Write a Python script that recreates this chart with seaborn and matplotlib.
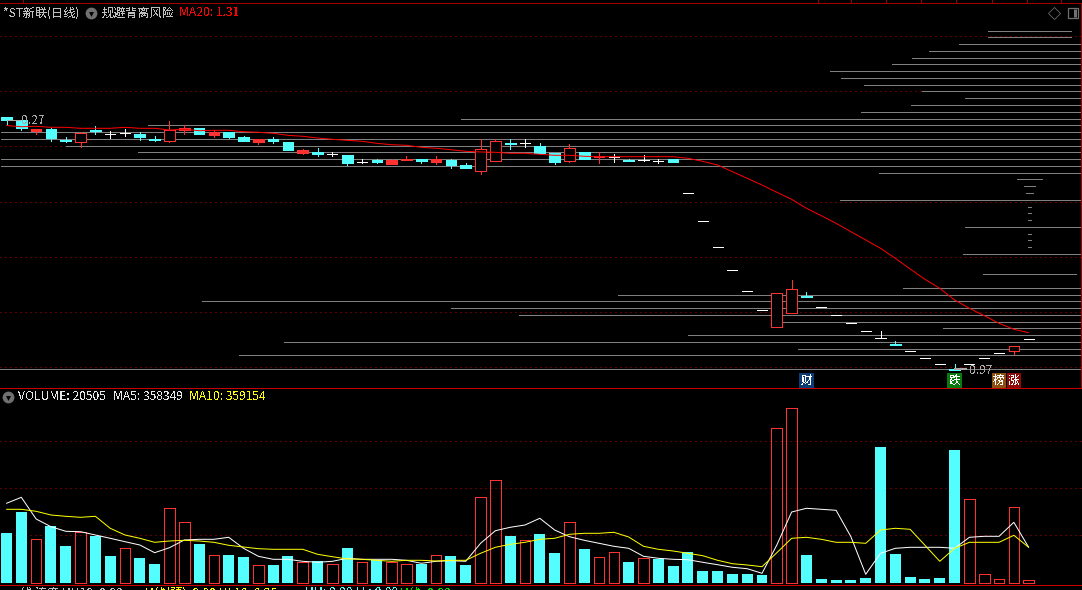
import numpy as np
import pandas as pd
import matplotlib
matplotlib.use("Agg")
import matplotlib.pyplot as plt
import seaborn as sns

# candle kinds: c = down (cyan), r = up (red), w = flat (white)
kinds = "ccrccrcwwc" "crrcrccrcc" "rcwcwcrrcr" "ccrrcwccrc" "rwcwwcwwww" "wwrrcwwwww" "cwwwcwwwrw"
# chart level, counted downwards from the top of the price panel
body_top = [117,120.3,129,129,140,133.3,130,134.3,132.7,134,
            139,130,128,128,132,132,137,139.3,139,142,
            150,152,154,155,162.3,160,160.3,159,159,159.3,
            160,165.3,149.3,141.3,143,143.3,146,153,148.3,152,
            156,156.7,160,160.3,161.3,159,193.3,220.5,247.3,270.3,
            291.3,310.3,293.3,289.3,296,306.7,315.3,323.3,331.3,338.3,
            344,351.3,358.3,364.3,369,364.3,358.3,353.3,346.3,339.3]
body_bot = [120,127.7,131.3,138.3,141,141.7,131.3,134.3,132.7,137,
            140,140.7,130,134,135,137,141,142,141,150,
            153,154,154,163,162.3,162,163.7,160,161,161.7,
            165,168,170.7,160.7,144,143.3,153,162,160.7,159,
            157,156.7,161,160.3,161.3,162,193.3,220.5,247.3,270.3,
            291.3,310.3,326.7,312.7,297,306.7,315.3,323.3,331.3,338.3,
            345,351.3,358.3,364.3,370,364.3,358.3,353.3,350.7,339.3]
wick_top = [117,120.3,129,128,137,131.7,126,131.3,129,132,
            136,121,125,128,130,132,136,139.3,137,142,
            149,148,152,155,159,158.7,158.7,156,159,156,
            159,163,139,139,139,139,143,153,144,152,
            152,154,159,155,159,159,193.3,220.5,247.3,270.3,
            291.3,310.3,293.3,280,292.3,306.7,315.3,323.3,331.3,331.3,
            341.3,351.3,358.3,364.3,364,364.3,358.3,353.3,346.3,339.3]
wick_bot = [125,130,134,141,142.3,147,134,138,136,140,
            141,142,134,134,137,138.3,141,144,143,150,
            154,156,156,165,163.3,163,163.7,160.3,163,164,
            168,168,173.7,160.7,149,147,154,164,162,159,
            163,162,161,161,163.3,162,193.3,220.5,247.3,270.3,
            291.3,310.3,326.7,312.7,297,306.7,315.3,323.3,331.3,338.3,
            345,351.3,358.3,364.3,370,364.3,358.3,353.3,354.3,339.3]
ma20 = [125.5,126.7,126.3,127.3,127.3,128.3,128.3,128.3,127.3,128.3,
        128.3,130,129.3,130.7,130.3,130.3,131.7,132.3,133.3,135.3,
        136.3,138,139.3,140.3,141.3,143.3,144.7,145.3,147.3,148.3,
        149.7,151.3,152,152.3,153.3,153.3,154.3,155.3,155.3,156.3,
        156.7,156.7,156.7,156.7,156.7,156.7,158.3,161.3,165,171.7,
        178.3,185,192.3,199.3,208.3,215.7,223.3,231.7,240,248.3,
        258.3,269,279.3,288.3,300,308.3,315.7,323.3,329.3,332.7]

# horizontal price levels: level, first session, last session
hl_level = [30.5,36.5,43.5,50.5,57.5,63.5,70.5,77.5,84.5,90.5,97.5,104.5,111.5,118.5,124.5,
            131.5,138.5,145.5,151.5,158.5,165.5,172.5,178.5,185.5,192.5,199.5,206.5,212.5,219.5,
            226.5,233.5,239.5,246.5,253.5,273.5,287.5,294.5,300.5,307.5,314.5,321.5,327.5,334.5,
            341.5,348.5,354.5,368.5]
hl_from = [66.25,66.25,64.3,62.3,61.1,59.8,55.6,56.3,57.9,61.8,64.7,61.05,57.7,30.7,9.56,
           -0.37,-0.37,4.0,8.9,-0.37,-0.37,58.9,68.2,68.7,68.8,56.25,68.95,68.95,68.95,
           64.7,68.95,68.95,68.95,64.6,65.9,60.5,41.25,13.2,30.0,34.6,51.65,63.2,46.0,
           18.75,53.4,15.7,-0.44]
hl_to = [71.86,71.86]+[72.6]*20+[69.9,69.4,69.3,72.6,69.15,69.15,69.15,
         72.6,69.15,69.15,69.15,72.6,72.2]+[72.6]*12
grid_price = [35.5,90.5,145.5,201.5,256.5,311.5,366.5]

# volume, in units of 10 000
volume = [50,71,43.7,57,37,51.3,47,27,34.7,25,
          19,74.7,60.7,39,27.7,28,26,17.7,18,27,
          21,22,18.7,35,20.7,22.7,20.7,18.7,19,27.7,
          27,18,85.7,102.7,47,42.7,49,30,60.7,34,
          25.7,30.7,21,24.7,24,17,31,12,12,9,
          9,8,154.7,174.7,28,4,3,3,5,136,
          29,6,4,5,133,83.7,8.7,3.7,75.7,2.7]
vol_kind = "ccrccrccrc" "crrcrccrcc" "rcrcrcrrcr" "ccrrcrccrc" "rrcrcccccc" "ccrrcccccc" "ccccc" + "rrrrr"
ma5 = [79.7,85.7,64,56.3,51.7,51.3,48,44.7,41.3,38,
       30.3,35.3,43,43.7,43.7,45.7,34.7,26.7,23.7,23.7,
       21.7,20.7,21.7,24.7,23.7,23.7,23.7,22.7,19.7,21.7,
       22.3,21.7,39.7,52.3,55.7,58,64.7,53,46.3,42.7,
       39.7,36.7,34.7,26.7,24.7,23.7,23.3,20.7,18.3,15.7,
       14.3,9.7,38,71,74.7,73.7,72.7,46.3,8.7,29.7,
       34.7,35.7,35.7,35.7,34.7,45.7,46.7,46.7,60.7,35.7]
ma10 = [73.7,73.7,71.7,68,66.7,65.7,66.7,54.7,48,44.7,
        40.7,42,42.7,42,40.7,37.7,36,34.3,33.7,33.7,
        33.7,28.7,26.3,24,23.7,22.7,21.7,22.7,22.7,22,
        22.7,22.7,29.7,35.7,38.7,40.7,43.7,44.7,48.7,49.7,
        49.7,50.7,46,36.7,33.7,32,29.7,27.3,22.7,19.3,
        18,16.3,30.3,44.7,45.7,43.7,40.7,40.7,39.7,53,
        54.7,53.7,37.7,21.7,34.7,40.7,40.7,40.7,47.7,35.7]
grid_vol = [141.7,94.7,47.7]
top_ticks = [1.1,54.8,57,59.4,61.7,64.1,66.5,68.9,71.2]

BLACK, GREY, CYAN, RED = "#000000", "#808080", "#54FEFE", "#FF3232"
PIX = 0.55
THIN = 0.72
DOTS = (0, (1.0, 4.0))

sns.set_theme(style="dark", rc={"figure.facecolor": BLACK, "axes.facecolor": BLACK, "savefig.facecolor": BLACK})
plt.rcParams["font.family"] = ["Noto Sans CJK SC", "DejaVu Sans"]
plt.rcParams["text.antialiased"] = False

W, H = 1082, 590
fig = plt.figure(figsize=(W / 100, H / 100), dpi=100)
ax = fig.add_axes([0, 1 - 388 / H, 1, 385 / H])
av = fig.add_axes([0, 1 - 585 / H, 1, 196.5 / H])
XLIM = (-0.4392, 72.6)
n = len(kinds)
idx = np.arange(n)

# ---------- price panel
for g in grid_price:
    ax.plot(XLIM, [g, g], color="#C00000", ls=DOTS, lw=0.72, zorder=1, antialiased=True, dash_capstyle="butt")
ax.hlines(hl_level, hl_from, hl_to, colors=GREY, lw=PIX, zorder=2, antialiased=False)
col = {"c": CYAN, "r": RED, "w": "#FFFFFF"}
for i, k in enumerate(kinds):
    c = col[k]
    ax.vlines(i, wick_top[i], wick_bot[i], colors=c, lw=PIX, zorder=3, antialiased=False)
    h = body_bot[i] - body_top[i]
    if h == 0:
        ax.hlines(body_top[i], i - 0.34, i + 0.34, colors=c, lw=PIX, zorder=4, antialiased=False)
    else:
        face = CYAN if k == "c" else (RED if h < 3.5 else BLACK)
        ax.bar(i, h, bottom=body_top[i], width=0.72, facecolor=face, edgecolor=c, lw=PIX, zorder=4, antialiased=False)
sns.lineplot(x=idx, y=ma20, ax=ax, color="#FF0000", linewidth=THIN, zorder=5, antialiased=True, legend=False)
ax.set_xlim(*XLIM)
ax.set_ylim(388, 3)
ax.axis("off")

txt = dict(va="center", ha="left", fontsize=8.7, clip_on=False, zorder=8)
ax.text(-0.24, 13, "*ST新联(日线)", color="#C0C0C0", **txt)
ax.plot([5.7], [13], "o", ms=8.5, mfc="#707070", mec="none", zorder=8, clip_on=False)
ax.plot([5.7], [13.5], "v", ms=3.5, mfc=BLACK, mec="none", zorder=9)
ax.text(6.4, 13, "规避背离风险", color="#C0C0C0", **txt)
ax.text(11.65, 13, "MA20: 1.31", color="#FF0000", **txt)
ax.text(1.0, 121, "0.27", color="#A8A8A8", **txt)
ax.text(65.0, 370.5, "0.97", color="#A8A8A8", **txt)
ax.plot([0, 0.9], [120, 120], color="#A8A8A8", lw=PIX, antialiased=False, zorder=6)
ax.plot([64, 64.8], [369, 369], color="#A8A8A8", lw=PIX * 2, antialiased=False, zorder=6)
ax.plot([70.7], [13], "D", ms=6, mfc="none", mec="#707070", mew=PIX, zorder=8)
ax.plot([72.0], [13], "s", ms=7.5, mfc="none", mec="#707070", mew=PIX * 1.6, zorder=8)
ax.plot([72.15], [13], "|", ms=6, mec="#707070", mew=2.2, zorder=8)
for i, ch, bg in [(54, "财", "#0C3C74"), (64, "跌", "#0A7A10"), (67, "榜", "#8C5010"), (68, "涨", "#8C0A0A")]:
    ax.text(i, 380.5, ch, color="white", fontsize=8.4, ha="center", va="center", zorder=8,
            bbox=dict(boxstyle="square,pad=0.12", fc=bg, ec="none"))
ax.vlines(top_ticks, 0, 3, colors="#A00000", lw=PIX, clip_on=False, antialiased=False)
ax.hlines(3.4, XLIM[0], XLIM[1], colors="#A00000", lw=PIX, clip_on=False, antialiased=False)
ax.hlines(387.6, XLIM[0], XLIM[1], colors="#C80000", lw=PIX, clip_on=False, antialiased=False, zorder=7)
ax.vlines(72.55, 3, 388, colors="#A00000", lw=PIX, clip_on=False, antialiased=False)

# ---------- volume panel
df = pd.DataFrame({"i": idx, "v": volume, "k": list(vol_kind)})
for g in grid_vol:
    av.plot(XLIM, [g, g], color="#C00000", ls=DOTS, lw=0.72, zorder=0.5, antialiased=True, dash_capstyle="butt")
sns.barplot(data=df[df.k == "c"], x="i", y="v", native_scale=True, color=CYAN, saturation=1, width=0.74,
            errorbar=None, ax=av, legend=False, linewidth=0, antialiased=False)
sns.barplot(data=df[df.k == "r"], x="i", y="v", native_scale=True, color=RED, saturation=1, width=0.72,
            errorbar=None, ax=av, legend=False, fill=False, linewidth=PIX, antialiased=False)
sns.lineplot(x=idx, y=ma5, ax=av, color="#FFFFFF", linewidth=THIN, zorder=4, antialiased=True, legend=False)
sns.lineplot(x=idx, y=ma10, ax=av, color="#FFFF00", linewidth=THIN, zorder=5, antialiased=True, legend=False)
av.set_xlim(*XLIM)
av.set_ylim(-2, 194.5)
av.axis("off")
av.plot([0.1], [186], "o", ms=8.5, mfc="#707070", mec="none", zorder=8, clip_on=False)
av.plot([0.1], [185.5], "v", ms=3.5, mfc=BLACK, mec="none", zorder=9)
av.text(0.78, 186, "VOLUME: 20505", color="#E8E8E8", **txt)
av.text(7.2, 186, "MA5: 358349", color="#E8E8E8", **txt)
av.text(12.3, 186, "MA10: 359154", color="#FFFF00", **txt)
av.hlines(-1.6, XLIM[0], XLIM[1], colors="#C80000", lw=PIX, clip_on=False, antialiased=False, zorder=7)

# cut-off indicator caption at the very bottom edge
foot = dict(transform=fig.transFigure, fontsize=8.7, va="top", ha="left")
fig.text(20 / W, 1 - 586.5 / H, "线 流度 HH10: 0.00", color="#C0C0C0", **foot)
fig.text(145 / W, 1 - 586.5 / H, "H线(预): 0.00 HL10: 0.25", color="#FFFF00", **foot)
fig.text(305 / W, 1 - 586.5 / H, "HH: 0.00 LL: 0.00", color="#54FEFE", **foot)
fig.text(400 / W, 1 - 586.5 / H, "H线: 0.00", color="#00E000", **foot)

fig.savefig("out.png", dpi=100, facecolor=BLACK)
